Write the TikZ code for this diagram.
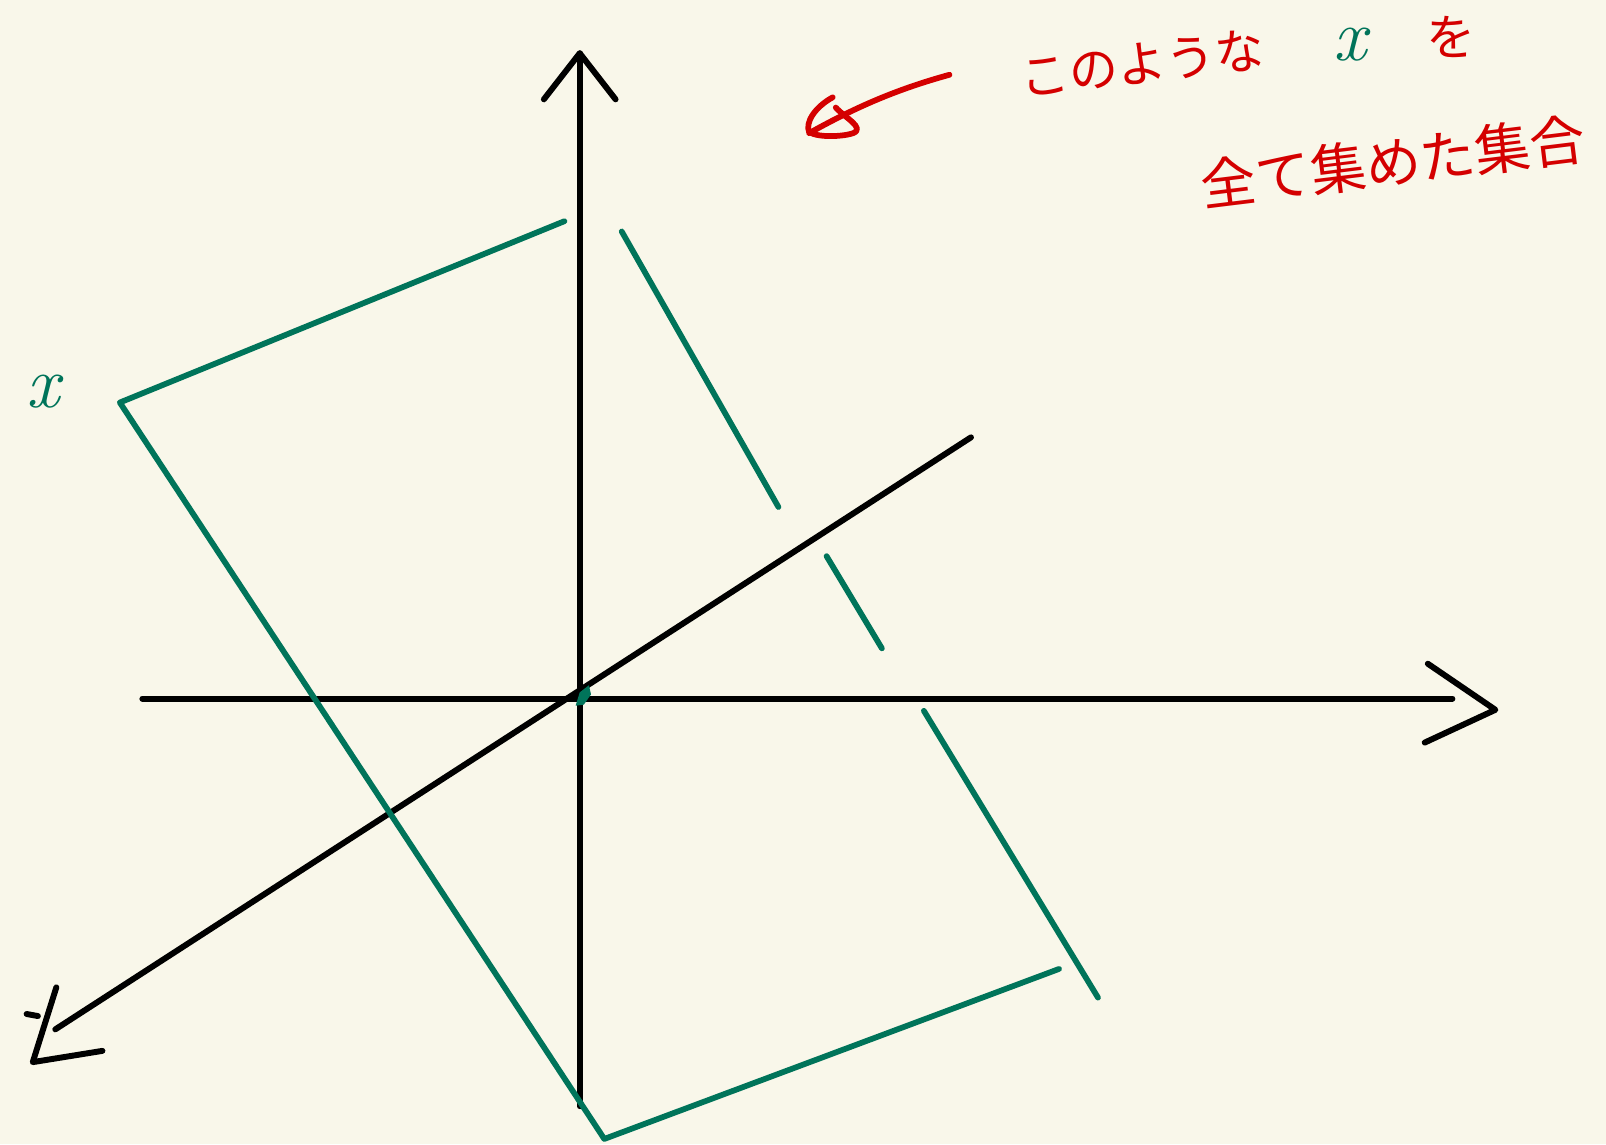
\documentclass[tikz,border=0pt]{standalone}
\usepackage{fontspec}
\newfontfamily\jpfont{Noto Sans CJK JP}
\definecolor{bg}{HTML}{F9F7EA}
\definecolor{pgreen}{HTML}{00745A}
\definecolor{pred}{HTML}{D40000}
\tikzset{
  axis/.style={line width=2.9pt, black, line cap=round, line join=round},
  gline/.style={line width=2.8pt, pgreen, line cap=round, line join=round},
  rline/.style={line width=2.8pt, pred, line cap=round, line join=round},
  jp/.style={pred, font=\jpfont\fontsize{24}{24}\selectfont, inner sep=0pt},
  gx/.style={pgreen, font=\fontsize{36}{36}\selectfont\itshape, inner sep=0pt},
}
\begin{document}
\begin{tikzpicture}[x=0.5pt,y=-0.5pt]
\fill[bg] (0,0) rectangle (1568,1117);
\useasboundingbox (0,0) rectangle (1568,1117);
% axes
\coordinate (vb) at (566,1080); \coordinate (vt) at (566,52);
\coordinate (hl) at (139,682);  \coordinate (hr) at (1418,682);
\coordinate (dt) at (948,427);  \coordinate (db) at (54,1005);
\draw[axis] (vb) -- (vt);
\draw[axis] (531,97) -- (vt) -- (601,97);
\draw[axis] (hl) -- (hr);
\draw[axis] (1394,648) -- (1460,693) -- (1391,725);
\draw[axis] (dt) -- (db);
\draw[axis] (55,964) -- (32,1037) -- (100,1026);
\draw[axis] (26,990) -- (37,992);
% green shape
\coordinate (g1) at (551,216); \coordinate (g2) at (117,393);
\coordinate (g3) at (590,1112); \coordinate (g4) at (1034,946);
\draw[gline] (g1) -- (g2) -- (g3) -- (g4);
\draw[gline] (607,226) -- (760,495);
\draw[gline] (807,543) -- (861,633);
\draw[gline] (902,694) -- (1072,974);
\fill[pgreen] (562,689) -- (566,676) -- (575,669) -- (577,678) -- (570,688) -- cycle;
\node[gx] (xl) at (42,382) {x};
% red arrow
\draw[rline] (927,73) .. controls (880,86) and (840,102) .. (790,130);
\draw[rline] (813,95) .. controls (795,105) and (786,120) .. (790,129)
  .. controls (800,135) and (825,133) .. (833,130)
  .. controls (845,125) and (825,115) .. (816,105);
% text
\node[jp, rotate=7] (t1) at (1115,62) {このような};
\node[gx] (tx) at (1318,44) {x};
\node[jp] (t2) at (1417,36) {を};
\node[jp, rotate=7, font=\jpfont\fontsize{27}{27}\selectfont] (t3) at (1360,158) {全て集めた集合};
\end{tikzpicture}
\end{document}
